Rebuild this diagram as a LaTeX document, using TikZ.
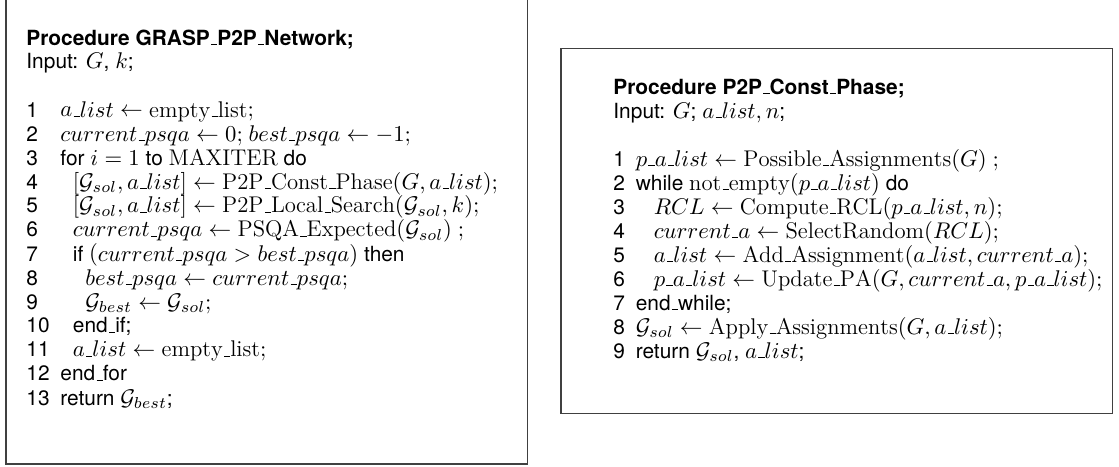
\RequirePackage{fix-cm}
\documentclass[tikz,border=0pt]{standalone}
\usepackage{fontspec}
\usepackage{array}
\setsansfont{TeX Gyre Heros}[Scale=0.92]
% low underscore as in the old OT1 fonts
\newcommand{\usc}{\mbox{\kern.06em\vbox{\hrule width .3em}}}
\newcommand{\ind}{\hspace*{6.25pt}}
\newcommand{\wind}{\hspace*{9pt}}
% rows of 12pt: strut 9pt + 3pt
\setlength{\extrarowheight}{2pt}
\begin{document}
\begin{tikzpicture}[
        x=0.5pt, y=-0.5pt,
        % frame round each procedure
        procbox/.style={
            draw=black!75,
            line width=0.7pt,
            inner sep=0pt
        },
        % listing text: sans for keywords, math for the rest
        codetext/.style={
            anchor=base west,
            inner sep=0pt,
            font=\sffamily\fontsize{11.35}{10}\selectfont
        }
    ]
        \useasboundingbox (0,0) rectangle (1119,466);

        % --- 1. the two frames ---
        \node[procbox, minimum width=260.85pt, minimum height=233pt] (graspbox) at (266.85,231) {};
        \node[procbox, minimum width=275.85pt, minimum height=182.6pt] (constbox) at (836.85,230.9) {};

        % --- 2. main GRASP procedure ---
        \node[codetext] (graspcode) at (26,45) {\begin{tabular}[t]{@{}l@{\hspace{5.4pt}}l@{}}
            \multicolumn{2}{@{}l@{}}{\textbf{Procedure GRASP\usc P2P\usc Network;}}\\
            \multicolumn{2}{@{}l@{}}{Input: $G$, $k$;}\\
            & \\
            1 & $a\usc list \leftarrow \mathrm{empty\usc list};$\\
            2 & $current\usc psqa \leftarrow 0;$ $best\usc psqa \leftarrow -1;$\\
            3 & for $i = 1$ to $\mathrm{MAXITER}$ do\\
            4 & \ind$[\mathcal{G}_{sol}, a\usc list] \leftarrow \mathrm{P2P\usc Const\usc Phase}(G, a\usc list);$\\
            5 & \ind$[\mathcal{G}_{sol}, a\usc list] \leftarrow \mathrm{P2P\usc Local\usc Search}(\mathcal{G}_{sol}, k);$\\
            6 & \ind$current\usc psqa \leftarrow \mathrm{PSQA\usc Expected}(\mathcal{G}_{sol})$ $;$\\
            7 & \ind if $(current\usc psqa > best\usc psqa)$ then\\
            8 & \ind\ind$best\usc psqa \leftarrow current\usc psqa;$\\
            9 & \ind\ind$\mathcal{G}_{best} \leftarrow \mathcal{G}_{sol};$\\
            10 & \ind end\usc if;\\
            11 & \ind$a\usc list \leftarrow \mathrm{empty\usc list};$\\
            12 & end\usc for\\
            13 & return $\mathcal{G}_{best}$;
        \end{tabular}};

        % --- 3. construction phase ---
        \node[codetext] (constcode) at (613,94) {\begin{tabular}[t]{@{}l@{\hspace{5.4pt}}l@{}}
            \multicolumn{2}{@{}l@{}}{\textbf{Procedure P2P\usc Const\usc Phase;}}\\
            \multicolumn{2}{@{}l@{}}{Input: $G$; $a\usc list, n$;}\\
            & \\
            1 & $p\usc a\usc list \leftarrow \mathrm{Possible\usc Assignments}(G)$ $;$\\
            2 & while $\mathrm{not\usc empty}(p\usc a\usc list)$ do\\
            3 & \wind$RCL \leftarrow \mathrm{Compute\usc RCL}(p\usc a\usc list, n);$\\
            4 & \wind$current\usc a \leftarrow \mathrm{SelectRandom}(RCL);$\\
            5 & \wind$a\usc list \leftarrow \mathrm{Add\usc Assignment}(a\usc list, current\usc a);$\\
            6 & \wind$p\usc a\usc list \leftarrow \mathrm{Update\usc PA}(G, current\usc a, p\usc a\usc list);$\\
            7 & end\usc while;\\
            8 & $\mathcal{G}_{sol} \leftarrow \mathrm{Apply\usc Assignments}(G, a\usc list);$\\
            9 & return $\mathcal{G}_{sol}$, $a\usc list$;
        \end{tabular}};

    \end{tikzpicture}
\end{document}
